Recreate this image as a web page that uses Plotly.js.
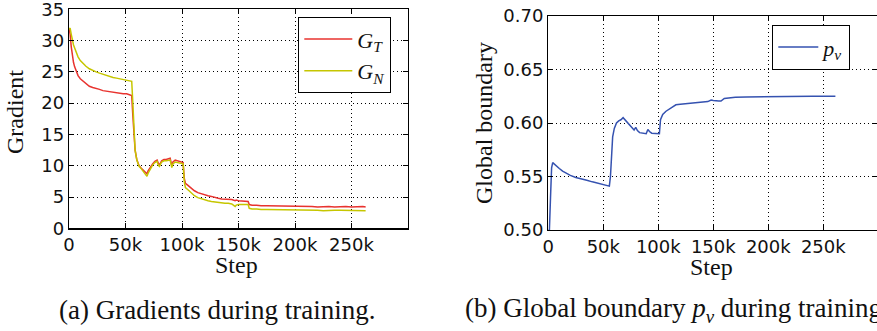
<!DOCTYPE html>
<html>
<head>
<meta charset="utf-8">
<script src="https://cdn.plot.ly/plotly-3.0.1.min.js"></script>
<style>
html,body{margin:0;padding:0;overflow:hidden;background:#fff;width:877px;height:331px;}
#chart{width:900px;height:331px;}
</style>
</head>
<body>
<div id="chart"></div>
<script>
// ---- data (steps in thousands) ----
const stepsG = [0,1,2,3,4,5,6,8,10,12,15,18,21,24,27,30,33,36,39,42,45,48,51,54,55.5,56.5,57.5,58.5,60,62,64,66,68,69,70,72,74,76,78,79,80,82,84,86,88,89.5,91,92,94,96,98,100,101,102,103,105,108,111,114,117,120,123,126,129,132,135,138,141,144,147,148,150,153,156,158.5,159.5,162,166,170,175,180,185,190,195,200,205,210,215,220,225,230,235,240,245,250,255,260,262.5];
const gradT = [32.0,31.0,29.0,27.5,26.5,25.8,25.2,24.4,23.9,23.6,23.1,22.7,22.5,22.4,22.2,22.0,21.9,21.8,21.7,21.6,21.6,21.5,21.5,21.3,21.2,18.0,14.5,12.5,11.0,10.0,9.6,9.2,8.8,8.7,9.2,9.8,10.3,10.7,10.9,10.4,10.1,10.8,11.0,11.0,11.1,11.2,10.0,10.6,10.9,10.8,10.7,10.6,10.5,8.0,7.2,6.9,6.4,6.0,5.7,5.5,5.4,5.2,5.1,4.9,4.8,4.7,4.7,4.6,4.6,4.4,4.5,4.4,4.4,4.4,4.3,3.8,3.7,3.7,3.6,3.6,3.6,3.6,3.5,3.5,3.5,3.5,3.5,3.5,3.4,3.5,3.5,3.4,3.5,3.5,3.4,3.5,3.5,3.4];
const gradN = [31.8,32.0,31.0,30.0,29.3,28.8,28.3,27.4,26.8,26.4,25.9,25.5,25.2,25.0,24.8,24.6,24.4,24.2,24.1,24.0,23.9,23.8,23.7,23.6,23.5,20.0,15.0,12.5,10.9,9.9,9.5,9.0,8.4,8.3,8.8,9.5,10.1,10.5,10.7,10.1,9.9,10.6,10.8,10.8,10.9,10.9,9.7,10.3,10.6,10.5,10.4,10.4,10.3,7.5,6.5,6.2,5.7,5.2,4.9,4.7,4.6,4.4,4.3,4.2,4.1,4.1,4.0,4.0,3.9,3.5,3.7,3.8,3.8,3.8,3.8,3.2,3.1,3.1,3.0,3.0,3.0,3.0,3.0,2.9,2.9,2.9,2.9,2.9,2.9,2.8,2.9,2.9,2.9,2.9,2.8,2.8,2.8,2.8];

const stepsP = [0,1,2,3,4,5,7,10,13,16,20,25,30,35,40,45,50,54,55.5,56.5,57.5,58.5,60,62,64,66,68,70,72,74,76,78,79.5,81,83,85,87,89,90.5,92,94,97,100,101,102,104,107,110,113,116,120,125,130,135,140,145,148,150,155,157,160,165,170,180,190,200,210,220,230,240,250,261];
const boundP = [0.500,0.500,0.530,0.558,0.563,0.562,0.560,0.5575,0.555,0.553,0.551,0.549,0.548,0.5465,0.545,0.5435,0.542,0.541,0.541,0.550,0.575,0.587,0.595,0.600,0.602,0.603,0.605,0.6025,0.600,0.598,0.5955,0.5935,0.596,0.593,0.591,0.5905,0.590,0.590,0.594,0.592,0.5905,0.590,0.5895,0.590,0.603,0.608,0.611,0.613,0.6155,0.617,0.6175,0.618,0.619,0.619,0.6195,0.620,0.6215,0.621,0.6205,0.6205,0.623,0.6235,0.624,0.6243,0.6245,0.6247,0.6248,0.6248,0.6248,0.6249,0.6249,0.625];

const xTickVals = [0,50,100,150,200,250];
const xTickText = ['0','50k','100k','150k','200k','250k'];
const yTickValsG = [0,5,10,15,20,25,30,35];
const yTickValsP = [0.50,0.55,0.60,0.65,0.70];
const yTickTextP = ['0.50','0.55','0.60','0.65','0.70'];

const W = 900, H = 331;
const px = v => v / W;
const py = v => 1 - v / H;

const serif = 'Liberation Serif, Times New Roman, serif';
const sans = 'DejaVu Sans, sans-serif';

const axisCommon = {
  showline: true, linecolor: '#000', linewidth: 1.3, mirror: 'allticks',
  ticks: 'inside', ticklen: 5, tickwidth: 1, tickcolor: '#000',
  showgrid: true, gridcolor: '#000', gridwidth: 1, griddash: '1px,3px',
  zeroline: false, tickfont: {family: sans, size: 18, color: '#111'},
  ticklabeloverflow: 'allow', fixedrange: true
};

const traces = [
  {x: stepsG, y: gradT, type: 'scatter', mode: 'lines', name: '<i>G</i><sub><i>T</i></sub>',
   line: {color: '#e8332f', width: 1.5}, xaxis: 'x', yaxis: 'y', legend: 'legend', cliponaxis: false},
  {x: stepsG, y: gradN, type: 'scatter', mode: 'lines', name: '<i>G</i><sub><i>N</i></sub>',
   line: {color: '#c6c600', width: 1.5}, xaxis: 'x', yaxis: 'y', legend: 'legend', cliponaxis: false},
  {x: stepsP, y: boundP, type: 'scatter', mode: 'lines', name: '<i>p</i><sub><i>v</i></sub>',
   line: {color: '#3552b0', width: 1.5}, xaxis: 'x2', yaxis: 'y2', legend: 'legend2', cliponaxis: false}
];

const legendFont = {family: serif, size: 22, color: '#111'};

const layout = {
  width: W, height: H,
  margin: {l: 0, r: 0, t: 0, b: 0},
  paper_bgcolor: '#fff', plot_bgcolor: '#fff',
  showlegend: true,
  xaxis: Object.assign({}, axisCommon, {domain: [px(69), px(408)], range: [0, 300], anchor: 'y',
    tickvals: xTickVals, ticktext: xTickText}),
  yaxis: Object.assign({}, axisCommon, {domain: [py(228.3), py(9.3)], range: [0, 35.0001], anchor: 'x',
    tickvals: yTickValsG}),
  xaxis2: Object.assign({}, axisCommon, {domain: [px(548.3), px(878.3)], range: [0, 300], anchor: 'y2',
    tickvals: xTickVals, ticktext: xTickText}),
  yaxis2: Object.assign({}, axisCommon, {domain: [py(230), py(16)], range: [0.50, 0.70], anchor: 'x2',
    tickvals: yTickValsP, ticktext: yTickTextP}),
  legend: {x: px(298), y: py(17), xanchor: 'left', yanchor: 'top', bgcolor: '#fff', itemwidth: 48,
    bordercolor: '#000', borderwidth: 1.3, font: legendFont, tracegroupgap: 0},
  legend2: {x: px(772), y: py(25), xanchor: 'left', yanchor: 'top', bgcolor: '#fff', itemwidth: 40,
    bordercolor: '#000', borderwidth: 1.3, font: legendFont},
  annotations: [
    {text: 'Gradient', x: px(15), y: py(112), xanchor: 'center', yanchor: 'middle', xref: 'paper', yref: 'paper', showarrow: false,
     textangle: -90, font: {family: serif, size: 24, color: '#111'}},
    {text: 'Step', x: px(236), y: py(265), xanchor: 'center', yanchor: 'middle', xref: 'paper', yref: 'paper', showarrow: false,
     font: {family: serif, size: 24, color: '#111'}},
    {text: 'Global boundary', x: px(484), y: py(123), xanchor: 'center', yanchor: 'middle', xref: 'paper', yref: 'paper', showarrow: false,
     textangle: -90, font: {family: serif, size: 24, color: '#111'}},
    {text: 'Step', x: px(711), y: py(267), xanchor: 'center', yanchor: 'middle', xref: 'paper', yref: 'paper', showarrow: false,
     font: {family: serif, size: 24, color: '#111'}},
    {text: '(a) Gradients during training.', x: px(57), y: py(310), xref: 'paper', yref: 'paper',
     xanchor: 'left', yanchor: 'middle', showarrow: false, font: {family: serif, size: 27, color: '#111'}},
    {text: '(b) Global boundary <i>p</i><sub><i>v</i></sub> during training.', x: px(463), y: py(310),
     xref: 'paper', yref: 'paper', xanchor: 'left', yanchor: 'middle', showarrow: false,
     font: {family: serif, size: 27, color: '#111'}}
  ]
};

Plotly.newPlot('chart', traces, layout, {displayModeBar: false, staticPlot: true});
</script>
</body>
</html>
